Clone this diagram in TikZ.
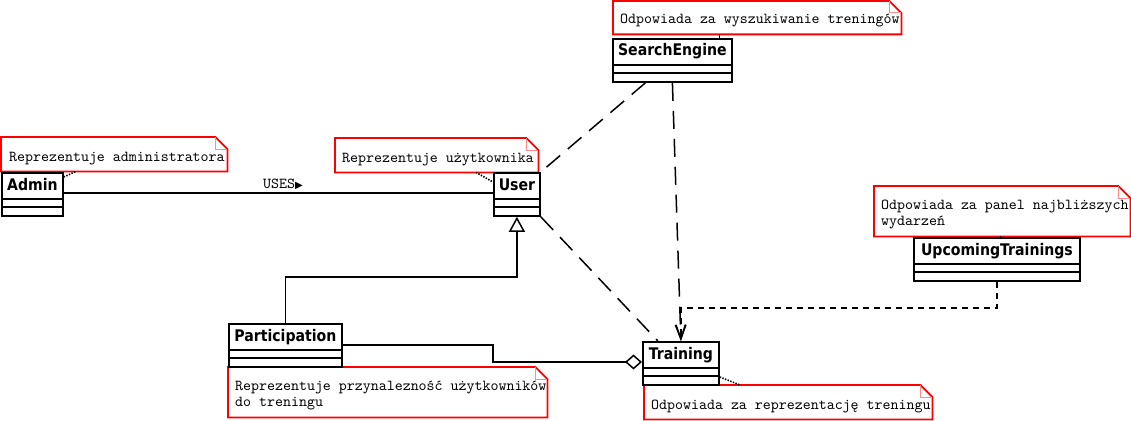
\documentclass[tikz,border=0pt]{standalone}
\usepackage{fontspec}
\usetikzlibrary{arrows.meta,calc}
\newfontfamily\monof{lmmono10-regular.otf}
\newfontfamily\clsf{DejaVu Sans}[FakeStretch=0.88]
\newfontfamily\symf{DejaVu Sans}
\tikzset{
  clsbox/.style={draw=black, line width=1.8pt, fill=white, anchor=north west, inner sep=0pt, minimum height=43pt},
  clsname/.style={font=\clsf\bfseries\fontsize{16}{18}\selectfont, anchor=base, inner sep=0pt},
  clssep/.style={line width=1.8pt},
  notebox/.style={draw=none, anchor=north west, inner sep=0pt},
  noteline/.style={draw=red, line width=1.8pt, line join=miter},
  notefold/.style={draw=red!45, line width=1pt},
  notetext/.style={font=\monof\fontsize{15.2}{16}\selectfont, anchor=base west, inner sep=0pt},
  link/.style={line width=1.5pt},
  dashlong/.style={line width=1.5pt, dash pattern=on 18pt off 10pt},
  dashshort/.style={line width=1.5pt, dash pattern=on 6pt off 5pt},
  dotl/.style={line width=1.6pt, dash pattern=on 1.4pt off 1.4pt},
  barb/.style={-{Straight Barb[length=14pt,width=10pt,line width=1.5pt]}},
}
\newcommand\umlcls[5]{%
  \node[clsbox, minimum width=#4pt] (#1) at (#2,#3) {};
  \node[clsname] (#1-t) at ($(#1.north)+(0,18)$) {#5};
  \draw[clssep] ($(#1.north west)+(0,27)$) -- ($(#1.north east)+(0,27)$);
  \draw[clssep] ($(#1.north west)+(0,35)$) -- ($(#1.north east)+(0,35)$);
}
\newcommand\umlnote[5]{%
  \node[notebox, minimum width=#4pt, minimum height=#5pt] (#1) at (#2,#3) {};
  \draw[noteline] (#1.north west) -- ($(#1.north east)+(-12,0)$) -- ($(#1.north east)+(0,12)$) -- (#1.south east) -- (#1.south west) -- cycle;
  \draw[notefold] ($(#1.north east)+(-12,0)$) -- ($(#1.north east)+(-12,12)$) -- ($(#1.north east)+(0,12)$);
}
\begin{document}
\begin{tikzpicture}[x=1pt,y=-1pt]
\useasboundingbox (0,0) rectangle (1131,420);

% notes
\umlnote{nadm}{1}{137}{226}{34}
\node[notetext] (nadm-t) at (9,161) {Reprezentuje administratora};
\umlnote{nuser}{335}{138}{203}{34}
\node[notetext] (nuser-t) at (342,162) {Reprezentuje użytkownika};
\umlnote{nse}{613}{1}{288}{33}
\node[notetext] (nse-t) at (620,24) {Odpowiada za wyszukiwanie treningów};
\umlnote{nup}{874}{186}{256}{50}
\node[notetext] (nup-t1) at (881,209) {Odpowiada za panel najbliższych};
\node[notetext] (nup-t2) at (881,225) {wydarzeń};
\umlnote{npart}{228}{367}{319}{50}
\node[notetext] (npart-t1) at (235,390) {Reprezentuje przynalezność użytkowników};
\node[notetext] (npart-t2) at (235,406) {do treningu};
\umlnote{ntr}{644}{385}{288}{34}
\node[notetext] (ntr-t) at (651,409) {Odpowiada za reprezentację treningu};

% classes
\umlcls{admin}{1}{172}{61}{Admin}
\umlcls{user}{493}{172}{46}{User}
\umlcls{se}{612}{38}{119}{SearchEngine}
\umlcls{up}{913}{237}{166}{UpcomingTrainings}
\umlcls{part}{228}{323}{113}{Participation}
\umlcls{tr}{642}{341}{76}{Training}

% connectors
\draw[link] ($(admin.north east)+(0,21)$) -- ($(user.north west)+(0,21)$);
\node[notetext, anchor=base] (uses) at (283,188) {USES{\symf\fontsize{10}{10}\selectfont ▶}};
\draw[dashlong] ($(se.south)+(-27,0)$) -- (user.north east);
\draw[dashlong] (user.south east) -- ($(tr.north)+(-23,0)$);
\draw[dashlong, barb] (se.south) -- (tr.north);
\draw[dashshort, barb] (up.south) -- ++(0,26) -| (tr.north);
\draw[link, -{Triangle[open,length=15pt,width=16pt,fill=white]}] (part.north) -- ++(0,-46) -| (user.south);
\draw[link, -{Diamond[open,length=17pt,width=15pt,fill=white]}] ($(part.north east)+(0,22)$) -- ++(150,0) |- ($(tr.north west)+(0,21)$);

% note links
\draw[dotl] ($(admin.north east)+(0,5)$) -- ($(nadm.south west)+(75,0)$);
\draw[dotl] ($(nuser.south west)+(141,0)$) -- ($(user.north west)+(0,10)$);
\draw[line width=1pt] ($(nse.south west)+(106,0)$) -- ($(se.north west)+(107,0)$);
\draw[line width=1pt] ($(nup.south west)+(126,0)$) -- ($(up.north west)+(87,0)$);
\draw[dotl] ($(tr.north east)+(0,36)$) -- ($(ntr.north west)+(96,0)$);
\end{tikzpicture}
\end{document}
